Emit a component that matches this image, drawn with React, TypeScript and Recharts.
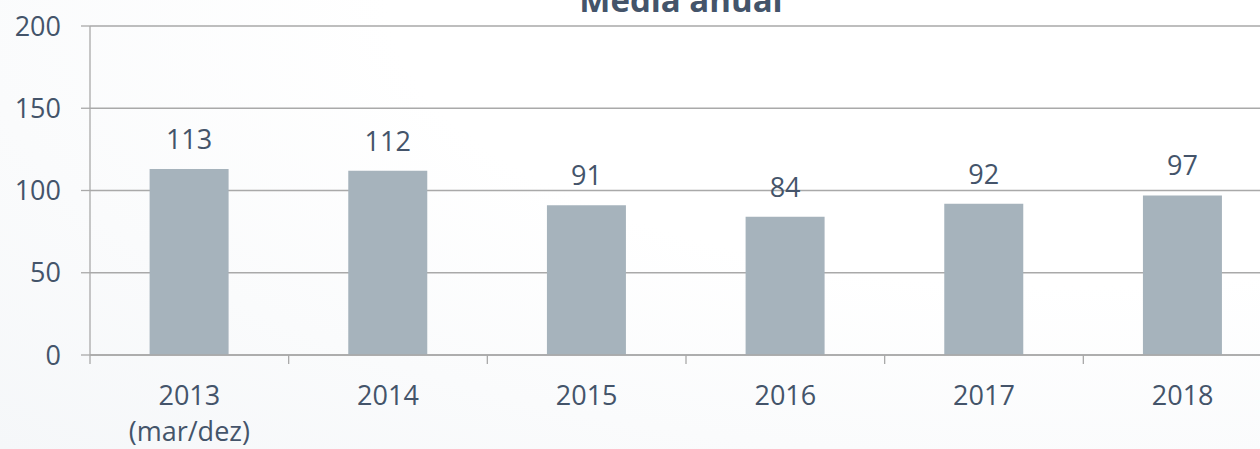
import { BarChart, Bar, XAxis, YAxis, CartesianGrid, LabelList } from "recharts";

// dados
const years = ["2013", "2014", "2015", "2016", "2017", "2018"];
const subLabels = ["(mar/dez)", "", "", "", "", ""];
const values = [113, 112, 91, 84, 92, 97];
const yTicks = [0, 50, 100, 150, 200];

const TEXT = "#44546a";
const BAR = "#a6b3bc";
const GRID = "#a9a9a9";
const FONT = "'Open Sans', sans-serif";
const LABEL_GAP = 31;

const data = years.map((year, i) => ({ year, value: values[i] }));

// rótulo do ano + marca entre categorias (estilo Excel)
function YearTick(props: any) {
  const { x, y, payload, index, width, visibleTicksCount } = props;
  const sub = subLabels[index];
  const half = payload?.offset || width / visibleTicksCount / 2;
  const axisY = y - LABEL_GAP;
  const isLast = index === visibleTicksCount - 1;
  return (
    <g>
      <line x1={x - half} x2={x - half} y1={axisY} y2={axisY + 9} stroke={GRID} strokeWidth={1.3} />
      {isLast && (
        <line x1={x + half} x2={x + half} y1={axisY} y2={axisY + 9} stroke={GRID} strokeWidth={1.3} />
      )}
      <text x={x} y={y} textAnchor="middle" fill={TEXT} fontSize={27} fontFamily={FONT}>
        <tspan x={x} dy="0.71em">{payload.value}</tspan>
        {sub ? <tspan x={x} dy="1.33em">{sub}</tspan> : null}
      </text>
    </g>
  );
}

export default function App() {
  return (
    <div
      style={{
        position: "absolute",
        left: 0,
        top: 0,
        width: 1260,
        height: 449,
        overflow: "hidden",
        background: "radial-gradient(ellipse at 85% 0%, #ffffff 45%, #f5f7f9 100%)",
      }}
    >
      <BarChart
        width={1300}
        height={449}
        data={data}
        margin={{ top: 26, right: 18, left: 0, bottom: 0 }}
        barCategoryGap="30%"
        style={{ fontFamily: FONT }}
      >
        <CartesianGrid vertical={false} stroke={GRID} strokeWidth={1.3} />
        <XAxis
          dataKey="year"
          tick={<YearTick />}
          tickLine={false}
          tickSize={0}
          tickMargin={LABEL_GAP}
          axisLine={{ stroke: GRID, strokeWidth: 1.3 }}
          height={94}
          interval={0}
        />
        <YAxis
          domain={[0, 200]}
          ticks={yTicks}
          width={90}
          tick={{ fill: TEXT, fontSize: 27, fontFamily: FONT }}
          tickSize={9}
          tickMargin={20}
          axisLine={{ stroke: GRID, strokeWidth: 1.3 }}
          tickLine={{ stroke: GRID, strokeWidth: 1.3 }}
        />
        <Bar dataKey="value" fill={BAR} isAnimationActive={false}>
          <LabelList
            dataKey="value"
            position="top"
            offset={20}
            fill={TEXT}
            fontSize={27}
            fontFamily={FONT}
          />
        </Bar>
      </BarChart>
      <svg
        width={1260}
        height={40}
        style={{ position: "absolute", left: 0, top: 0, pointerEvents: "none" }}
      >
        <text x={681} y={12} textAnchor="middle" fill={TEXT} fontSize={33} fontWeight={700} fontFamily={FONT}>
          Média anual
        </text>
      </svg>
    </div>
  );
}
